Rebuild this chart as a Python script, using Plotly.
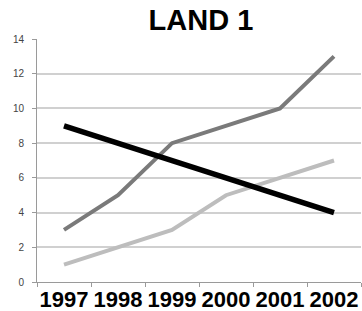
import plotly.graph_objects as go

years = ["1997", "1998", "1999", "2000", "2001", "2002"]
series_black = [9, 8, 7, 6, 5, 4]
series_dark = [3, 5, 8, 9, 10, 13]
series_light = [1, 2, 3, 5, 6, 7]
y_ticks = [0, 2, 4, 6, 8, 10, 12, 14]

fig = go.Figure()
fig.add_trace(go.Scatter(x=years, y=series_light, mode="lines",
                         line=dict(color="#bdbdbd", width=4)))
fig.add_trace(go.Scatter(x=years, y=series_dark, mode="lines",
                         line=dict(color="#7a7a7a", width=4)))
fig.add_trace(go.Scatter(x=years, y=series_black, mode="lines",
                         line=dict(color="#000000", width=5.5)))

fig.update_layout(
    width=362, height=311,
    margin=dict(l=37, r=1, t=39, b=29, autoexpand=False),
    paper_bgcolor="white", plot_bgcolor="white",
    showlegend=False,
    title=dict(text="<b>LAND 1</b>", x=0.555, xanchor="center",
               yref="container", y=0.97, yanchor="top",
               font=dict(family="Liberation Sans, Arial", size=29, color="black")),
    xaxis=dict(type="category", range=[-0.5, 5.5], tickson="boundaries",
               ticks="outside", ticklen=4, tickcolor="#9a9a9a",
               showline=True, linecolor="#9a9a9a", linewidth=1,
               showgrid=False, tickangle=0, automargin=False,
               ticklabelstandoff=-2,
               tickfont=dict(family="Liberation Sans, Arial", size=22, color="black"),
               tickprefix="<b>", ticksuffix="</b>"),
    yaxis=dict(range=[0, 14], tickvals=y_ticks, ticks="outside", ticklen=4,
               tickcolor="#9a9a9a", showline=True, linecolor="#9a9a9a", linewidth=1,
               showgrid=True, gridcolor="#d0d0d0", gridwidth=1.5, zeroline=False,
               automargin=False,
               tickfont=dict(family="Liberation Sans, Arial", size=10, color="#444"),
               ticklabelstandoff=6),
)

fig.write_html("out.html", config={"displayModeBar": False})
with open("out.html", "r", encoding="utf-8") as f:
    html = f.read()
html = html.replace("<head>", "<head><style>html,body{margin:0;padding:0;overflow:hidden;}</style>", 1)
with open("out.html", "w", encoding="utf-8") as f:
    f.write(html)
